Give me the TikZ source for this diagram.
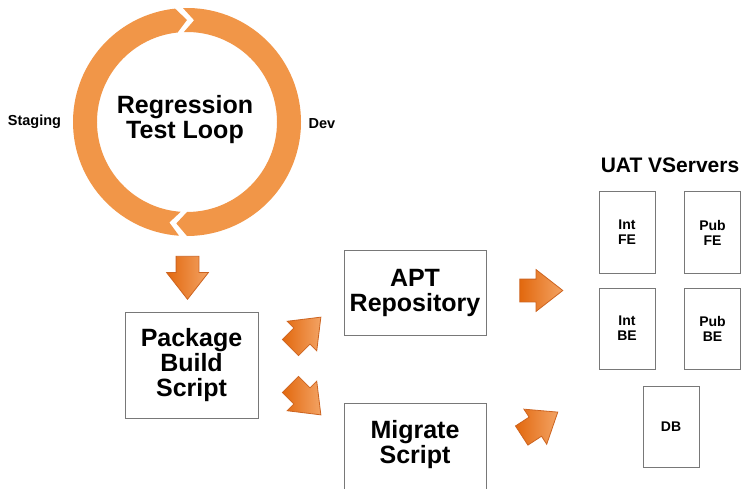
\documentclass[tikz,border=0pt]{standalone}
\usepackage{fontspec}
\setmainfont{Liberation Sans}
\usetikzlibrary{shapes.arrows}
\definecolor{ringc}{RGB}{241,150,72}
\definecolor{arrA}{RGB}{226,104,14}
\definecolor{arrB}{RGB}{243,163,100}
\definecolor{arrD}{RGB}{205,100,32}
\definecolor{boxline}{RGB}{120,120,120}
\begin{document}
\begin{tikzpicture}[x=1pt,y=1pt,
  box/.style={draw=boxline, line width=1pt, fill=white, inner sep=0pt, align=center,
    font=\bfseries\fontsize{25}{25}\selectfont},
  srv/.style={draw=boxline, line width=1pt, minimum width=56pt, minimum height=81pt,
    inner sep=0pt, align=center, font=\bfseries\fontsize{14}{15}\selectfont},
  barrow/.style={single arrow, minimum height=43pt, minimum width=41pt,
    single arrow head extend=9.5pt, single arrow tip angle=76, inner xsep=0pt, inner ysep=11pt,
    text height=0pt, text depth=0pt, outer sep=0pt,
    left color=arrA, right color=arrB, draw=arrD, line width=0.8pt},
  lbl/.style={font=\bfseries\fontsize{14.5}{15}\selectfont, inner sep=0pt, anchor=base}
]
\useasboundingbox (0,0) rectangle (741,-489);
\fill[white] (0,0) rectangle (741,-489);

% ring
\begin{scope}[shift={(187,-122)}]
\fill[ringc] (92:114pt) arc[start angle=92, end angle=-90, radius=114pt] -- (-96:102pt)
  -- (-90:90pt) arc[start angle=-90, end angle=92, radius=90pt] -- (86:102pt) -- cycle;
\fill[ringc] (-94:114pt) arc[start angle=-94, end angle=-264, radius=114pt] -- (-270:102pt)
  -- (-264:90pt) arc[start angle=-264, end angle=-94, radius=90pt] -- (-100:102pt) -- cycle;
\end{scope}
\node[font=\bfseries\fontsize{25}{25}\selectfont, align=center, inner sep=0pt] (loop) at (185,-120) {Regression\\Test Loop};
\node[lbl] (stg) at (34.5,-126) {Staging};
\node[lbl] (dev) at (322,-129) {Dev};

% boxes
\node[box, minimum width=133pt, minimum height=106pt] (pkg) at (191.5,-365) {Package\\Build\\Script};
\node[box, minimum width=142pt, minimum height=85pt] (apt) at (415,-292.5) {APT\\Repository};
\node[box, minimum width=142pt, minimum height=110pt, anchor=north] (mig) at (415,-403) {};
\node[font=\bfseries\fontsize{25}{25}\selectfont, align=center, inner sep=0pt] (migt) at (415,-445) {Migrate\\Script};

% servers
\node[font=\bfseries\fontsize{21}{21}\selectfont, anchor=base, inner sep=0pt] (uat) at (670,-173) {UAT VServers};
\node[srv] (intfe) at (627,-232.5) {Int\\FE};
\node[srv] (pubfe) at (712.5,-232.5) {Pub\\FE};
\node[srv] (intbe) at (627,-328.5) {Int\\BE};
\node[srv] (pubbe) at (712.5,-328.5) {Pub\\BE};
\node[srv] (db) at (671,-427) {DB};

% block arrows
\node[barrow, rotate=-90] (a1) at (187.5,-270.5) {};
\node[barrow, rotate=45] (a2) at (300.5,-337.5) {};
\node[barrow, rotate=-45] (a3) at (300.5,-394.5) {};
\node[barrow] (a4) at (534,-290.5) {};
\node[barrow, rotate=33] (a5) at (533.6,-427.8) {};
\end{tikzpicture}
\end{document}
